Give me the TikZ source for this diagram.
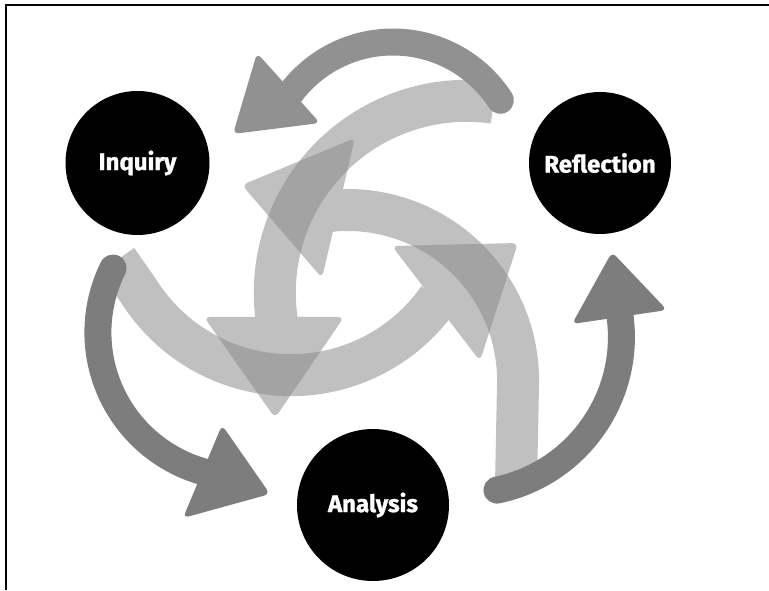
\documentclass[tikz,border=0pt]{standalone}
\usepackage{fontspec}
\newfontfamily\labelfont[BoldFeatures={FakeBold=1.2}]{Fira Sans}
\begin{document}
\begin{tikzpicture}[x=1pt,y=1pt,
  stage/.style={circle, fill=black, minimum size=#1, inner sep=0pt, text=white,
    font=\labelfont\bfseries\fontsize{24}{26}\selectfont},
  darkband/.style={line width=27pt, line cap=round, draw=#1},
  lightband/.style={line width=42pt, line cap=butt, draw=lightg},
  head/.style={fill=#1, rounded corners=6pt},
  lightgroup/.style={transparency group, opacity=0.55}]
\colorlet{lightg}{black!45}
\colorlet{darktop}{black!43}
\colorlet{darkside}{black!51}
\useasboundingbox (0,0) rectangle (769,590);
% frame (top and left edges)
\coordinate (fbl) at (6,0);
\coordinate (ftl) at (6,585);
\coordinate (ftr) at (769,585);
\draw[line width=2pt] (fbl) -- (ftl) -- (ftr);

% light arrow A: top right, sweeping down to the centre
\begin{scope}[lightgroup]
  \coordinate (cA) at (466.8,297.2);
  \draw[lightband] ([shift={(82:192)}]cA) arc[start angle=82, end angle=190, radius=192];
  \coordinate (a1) at (204,273); \coordinate (a2) at (344,273); \coordinate (a3) at (275,172);
  \fill[head=lightg] (a1) -- (a2) -- (a3) -- cycle;
\end{scope}
% light arrow B: lower left, sweeping up to the right
\begin{scope}[lightgroup]
  \coordinate (cB) at (291,394.8);
  \coordinate (bT) at (117,330);
  \draw[lightband] (bT) -- ([shift={(212:180)}]cB) arc[start angle=212, end angle=325, radius=180];
  \coordinate (b1) at (392,344); \coordinate (b2) at (518,347); \coordinate (b3) at (480,229);
  \fill[head=lightg] (b1) -- (b2) -- (b3) -- cycle;
\end{scope}
% light arrow C: right, sweeping up and to the left
\begin{scope}[lightgroup]
  \coordinate (cC) at (347.5,209.4);
  \coordinate (cT) at (516,105);
  \draw[lightband] (cT) -- ([shift={(0:170.6)}]cC) arc[start angle=0, end angle=97, radius=170.6];
  \coordinate (c1) at (355,452); \coordinate (c2) at (242,405); \coordinate (c3) at (322,312);
  \fill[head=lightg] (c1) -- (c2) -- (c3) -- cycle;
\end{scope}

% dark arrow: Reflection -> Inquiry (top)
\coordinate (dT) at (393,420);
\draw[darkband=darktop] ([shift={(33:128)}]dT) arc[start angle=33, end angle=147, radius=128];
\coordinate (t1) at (257,537); \coordinate (t2) at (233,456); \coordinate (t3) at (320,467);
\fill[head=darktop] (t1) -- (t2) -- (t3) -- cycle;
% dark arrow: Inquiry -> Analysis (left)
\coordinate (dL) at (242.7,257.6);
\draw[darkband=darkside] ([shift={(153.6:144.8)}]dL) arc[start angle=153.6, end angle=257, radius=144.8];
\coordinate (l1) at (222,165); \coordinate (l2) at (270,96); \coordinate (l3) at (183,72);
\fill[head=darkside] (l1) -- (l2) -- (l3) -- cycle;
% dark arrow: Analysis -> Reflection (right)
\coordinate (dR) at (465,253);
\draw[darkband=darkside] ([shift={(-78.2:156.4)}]dR) arc[start angle=-78.2, end angle=10, radius=156.4];
\coordinate (r1) at (612,338); \coordinate (r2) at (667,280); \coordinate (r3) at (572,266);
\fill[head=darkside] (r1) -- (r2) -- (r3) -- cycle;

% stages
\node[stage=144pt] (inq) at (137.5,427) {Inquiry};
\node[stage=142pt] (ref) at (600,427) {Reflection};
\node[stage=152pt] (ana) at (373,85) {Analysis};
\end{tikzpicture}
\end{document}
